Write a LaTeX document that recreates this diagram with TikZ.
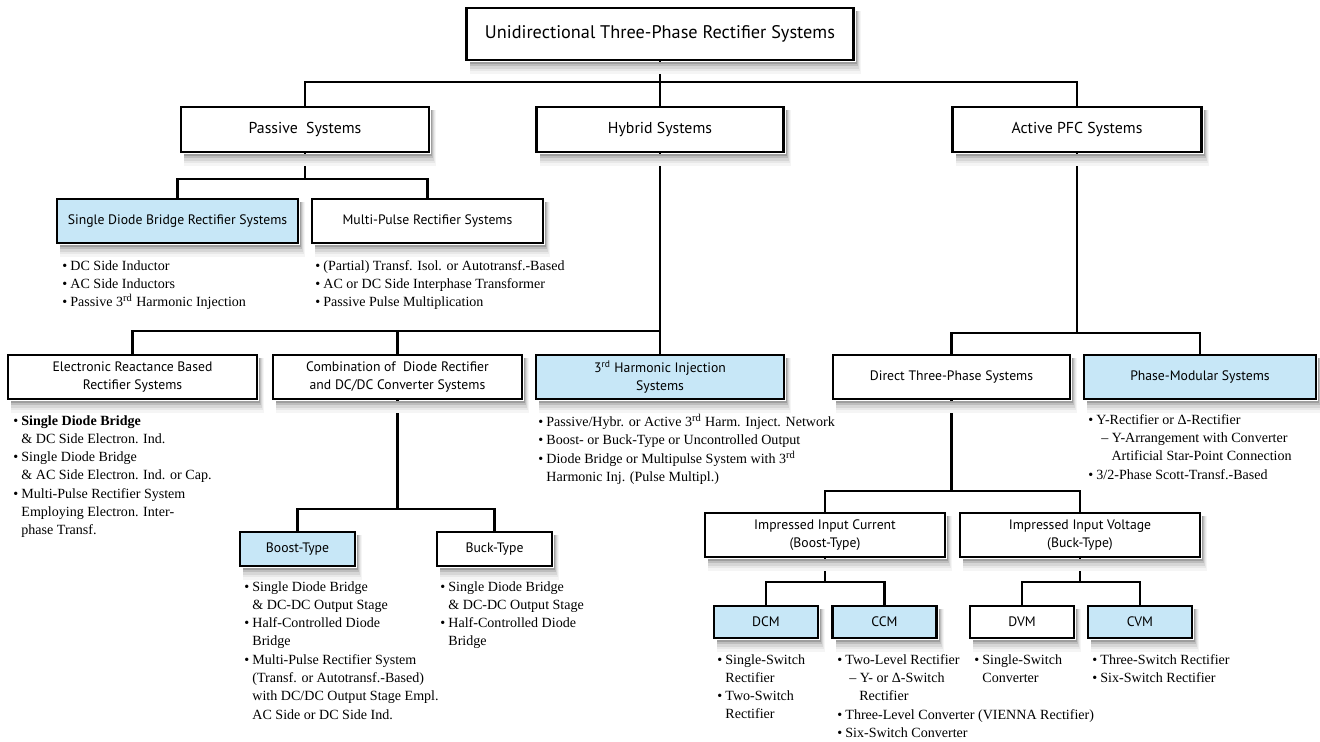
\documentclass[tikz,border=0pt]{standalone}
\usepackage{fontspec}
\setmainfont{Liberation Serif}
\setsansfont{PT Sans}
\definecolor{myblue}{RGB}{199,231,247}

\newcommand{\bul}{\makebox[4.6pt][l]{\textbullet}}
\newcommand{\ind}{\hspace*{4.6pt}}

\begin{document}
\begin{tikzpicture}[x=0.02cm, y=-0.02cm,
    wh/.style 2 args={minimum width=#1*0.02cm, minimum height=#2*0.02cm},
    box/.style={draw, line width=1.4pt, fill=white, inner sep=0pt, align=center,
        font=\sffamily\fontsize{7.8}{10.2}\selectfont},
    bigbox/.style={box, font=\sffamily\fontsize{9}{11}\selectfont},
    hl/.style={fill=myblue},
    conn/.style={line width=1.2pt},
    list/.style={anchor=north west, inner sep=0pt, align=left,
        font=\rmfamily\fontsize{8}{10.4}\selectfont}]
    \useasboundingbox (0,0) rectangle (1320,742);

    % Top and second level
    \begin{scope}
        \node[bigbox, font=\sffamily\fontsize{10.4}{12}\selectfont, wh={387}{52}] (uni) at (660,34) {Unidirectional Three-Phase Rectifier Systems};
        \node[bigbox, wh={248}{45}] (pas) at (305,129.5) {Passive\ \ Systems};
        \node[bigbox, wh={247}{45}] (hyb) at (660,129.5) {Hybrid Systems};
        \node[bigbox, wh={249}{45}] (act) at (1077,129.5) {Active PFC Systems};
        \draw[conn] (uni) -- (hyb);
        \draw[conn] (pas.north) -- ++(0,-24) -| (act.north);
    \end{scope}

    % Passive systems
    \begin{scope}
        \node[box, hl, wh={241}{44}] (sdb) at (177.5,221) {Single Diode Bridge Rectifier Systems};
        \node[box, wh={231}{44}] (mpr) at (427.5,221) {Multi-Pulse Rectifier Systems};
        \draw[conn] (pas.south) -- ++(0,26) coordinate (pasbus);
        \draw[conn] (sdb.north) |- (pasbus) -| (mpr.north);
        \node[list] (sdbl) at (62,260) {\bul DC Side Inductor\\\bul AC Side Inductors\\\bul Passive 3\textsuperscript{rd} Harmonic Injection};
        \node[list] (mprl) at (315,260) {\bul (Partial) Transf. Isol. or Autotransf.-Based\\\bul AC or DC Side Interphase Transformer\\\bul Passive Pulse Multiplication};
    \end{scope}

    % Hybrid systems
    \begin{scope}
        \node[box, wh={249}{44}] (erb) at (132.5,377) {Electronic Reactance Based\\Rectifier Systems};
        \node[box, wh={249}{44}] (cmb) at (397.5,377) {Combination of\ \ Diode Rectifier\\and DC/DC Converter Systems};
        \node[box, hl, wh={248}{44}] (thi) at (660,377) {3\textsuperscript{rd} Harmonic Injection\\Systems};
        \draw[conn] (hyb) -- (thi);
        \draw[conn] (erb.north) -- ++(0,-23) -| (thi.north);
        \draw[conn] (cmb.north) -- ++(0,-23);
        \node[list] (erbl) at (13,415) {\bul\textbf{Single Diode Bridge}\\\ind\& DC Side Electron. Ind.\\\bul Single Diode Bridge\\\ind\& AC Side Electron. Ind. or Cap.\\\bul Multi-Pulse Rectifier System\\\ind Employing Electron. Inter-\\\ind phase Transf.};
        \node[list] (thil) at (538,414) {\bul Passive/Hybr. or Active 3\textsuperscript{rd} Harm. Inject. Network\\\bul Boost- or Buck-Type or Uncontrolled Output\\\bul Diode Bridge or Multipulse System with 3\textsuperscript{rd}\\\ind Harmonic Inj. (Pulse Multipl.)};
    \end{scope}

    % Active PFC systems
    \begin{scope}
        \node[box, wh={237}{44}] (dtp) at (951.5,377) {Direct Three-Phase Systems};
        \node[box, hl, wh={232}{44}] (pms) at (1200,377) {Phase-Modular Systems};
        \draw[conn] (act.south) -- ++(0,180) coordinate (actbus);
        \draw[conn] (dtp.north) |- (actbus) -| (pms.north);
        \node[list] (pmsl) at (1088,414) {\bul Y-Rectifier or Δ-Rectifier\\\hspace*{7.4pt}– Y-Arrangement with Converter\\\hspace*{13.2pt}Artificial Star-Point Connection\\\bul 3/2-Phase Scott-Transf.-Based};
    \end{scope}

    % Diode rectifier + DC/DC converter
    \begin{scope}
        \node[box, hl, wh={115}{34}] (bst) at (297.5,549) {Boost-Type};
        \node[box, wh={115}{34}] (bck) at (494.5,549) {Buck-Type};
        \draw[conn] (cmb.south) -- ++(0,109) coordinate (cmbbus);
        \draw[conn] (bst.north) |- (cmbbus) -| (bck.north);
        \node[list] (bstl) at (244,581) {\bul Single Diode Bridge\\\ind\& DC-DC Output Stage\\\bul Half-Controlled Diode\\\ind Bridge\\\bul Multi-Pulse Rectifier System\\\ind (Transf. or Autotransf.-Based)\\\ind with DC/DC Output Stage Empl.\\\ind AC Side or DC Side Ind.};
        \node[list] (bckl) at (440,581) {\bul Single Diode Bridge\\\ind\& DC-DC Output Stage\\\bul Half-Controlled Diode\\\ind Bridge};
    \end{scope}

    % Direct three-phase systems
    \begin{scope}
        \node[box, wh={240}{44}] (iic) at (825,535) {Impressed Input Current\\(Boost-Type)};
        \node[box, wh={240}{44}] (iiv) at (1080,535) {Impressed Input Voltage\\(Buck-Type)};
        \draw[conn] (dtp.south) -- ++(0,91) coordinate (dtpbus);
        \draw[conn] (iic.north) |- (dtpbus) -| (iiv.north);
        \node[box, hl, wh={104}{32}] (dcm) at (766,622) {DCM};
        \node[box, hl, wh={104}{32}] (ccm) at (884.5,622) {CCM};
        \node[box, wh={104}{32}] (dvm) at (1022,622) {DVM};
        \node[box, hl, wh={104}{32}] (cvm) at (1140,622) {CVM};
        \draw[conn] (iic.south) -- ++(0,24) coordinate (iicbus);
        \draw[conn] (dcm.north) |- (iicbus) -| (ccm.north);
        \draw[conn] (iiv.south) -- ++(0,24) coordinate (iivbus);
        \draw[conn] (dvm.north) |- (iivbus) -| (cvm.north);
        \node[list] (dcml) at (717,654) {\bul Single-Switch\\\ind Rectifier\\\bul Two-Switch\\\ind Rectifier};
        \node[list] (ccml) at (837,654) {\bul Two-Level Rectifier\\\hspace*{6.8pt}– Y- or Δ-Switch\\\hspace*{12.5pt}Rectifier\\\bul Three-Level Converter (VIENNA Rectifier)\\\bul Six-Switch Converter};
        \node[list] (dvml) at (974,654) {\bul Single-Switch\\\ind Converter};
        \node[list] (cvml) at (1092,654) {\bul Three-Switch Rectifier\\\bul Six-Switch Rectifier};
    \end{scope}

    % Soft shadows: strips below and to the right of each box
    \foreach \n in {uni,pas,hyb,act,sdb,mpr,erb,cmb,thi,dtp,pms,bst,bck,iic,iiv,dcm,ccm,dvm,cvm}
        \foreach \c/\dx/\dy in {4/3.4/7, 9/2.8/5.6, 16/2.2/4.3, 26/1.7/3, 38/1.2/1.8}
        {
            \fill[black!\c] ([xshift=2.5pt, yshift=-0.7pt]\n.south west) rectangle ([xshift=\dx pt, yshift=-\dy pt]\n.south east);
            \fill[black!\c] ([xshift=0.7pt, yshift=-0.7pt]\n.south east) rectangle ([xshift=\dx pt, yshift=-2.5pt]\n.north east);
        }
\end{tikzpicture}
\end{document}
